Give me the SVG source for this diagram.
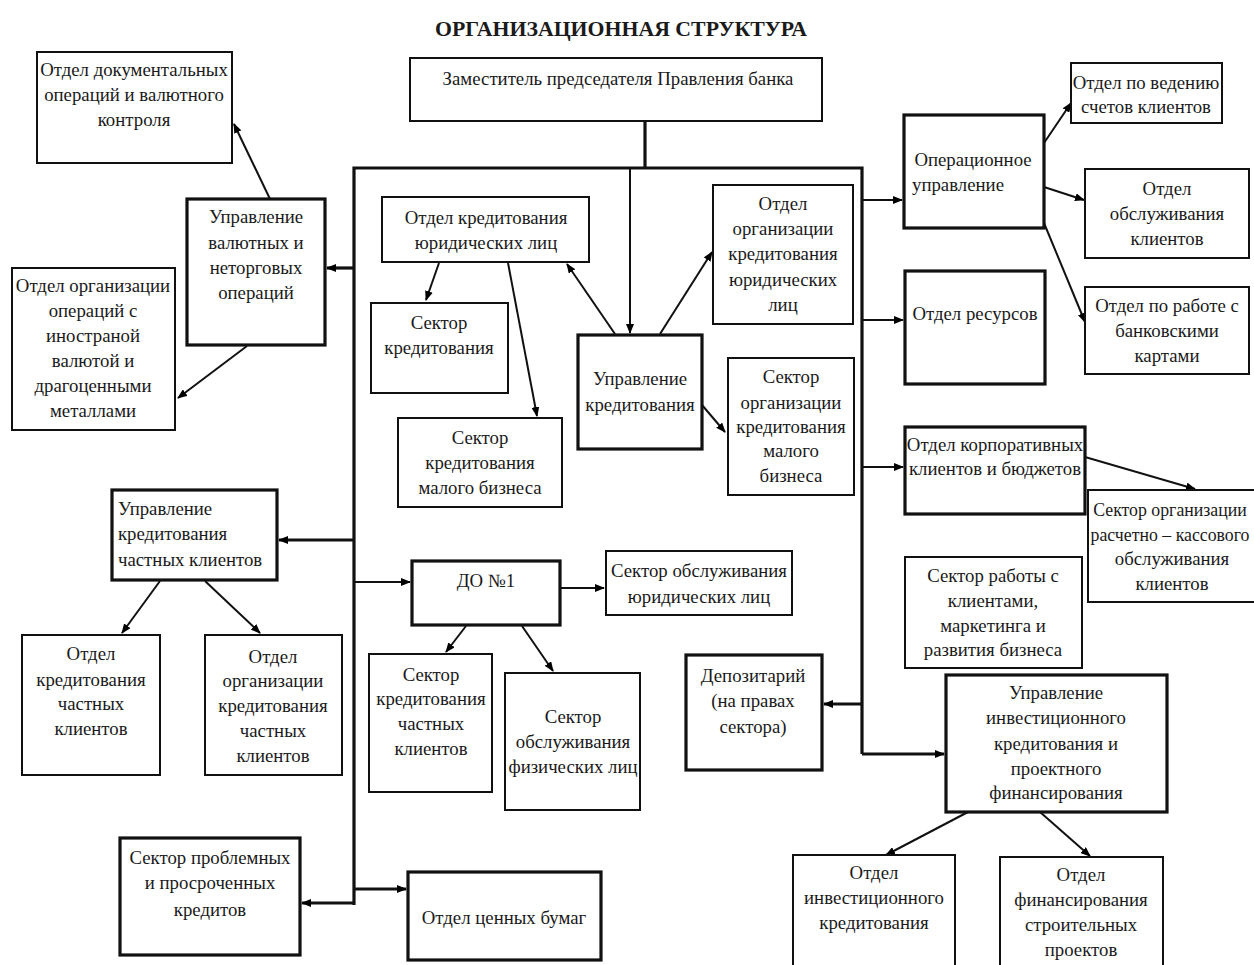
<svg xmlns="http://www.w3.org/2000/svg" width="1254" height="965" viewBox="0 0 1254 965">
<defs>
<marker id="a" markerWidth="10" markerHeight="8" refX="9" refY="4" orient="auto" markerUnits="userSpaceOnUse"><path d="M0,0 L10,4 L0,8 z" fill="#000"/></marker>
<style>
.b{fill:#fff;stroke:#111;stroke-width:2}
.t{fill:#fff;stroke:#111;stroke-width:3.2}
text{font-family:"Liberation Serif","Times New Roman",serif;font-size:18.8px;fill:#1a1a1a;text-anchor:middle}
.l{text-anchor:start}
.s{font-size:17.8px}
.h{font-size:21.8px;font-weight:bold}
.c line,.c polyline{stroke:#111;stroke-width:2;fill:none}
.c .k{stroke-width:3.2}
</style>
</defs>
<rect width="1254" height="965" fill="#fff"/>
<text class="h" x="621" y="36">ОРГАНИЗАЦИОННАЯ СТРУКТУРА</text>

<g class="c" id="connectors">
<line x1="645" y1="121" x2="645" y2="168" class="k"/>
<polyline class="k" points="354,905 354,168 862,168 862,754"/>
<line x1="630" y1="168" x2="630" y2="333" marker-end="url(#a)"/>
<line class="k" x1="354" y1="268" x2="327" y2="268" marker-end="url(#a)"/>
<line class="k" x1="354" y1="540" x2="279" y2="540" marker-end="url(#a)"/>
<line x1="354" y1="582" x2="410" y2="582" marker-end="url(#a)"/>
<line class="k" x1="354" y1="903" x2="302" y2="903" marker-end="url(#a)"/>
<line class="k" x1="354" y1="889" x2="406" y2="889" marker-end="url(#a)"/>
<line x1="862" y1="200" x2="902" y2="200" marker-end="url(#a)"/>
<line x1="862" y1="320" x2="903" y2="320" marker-end="url(#a)"/>
<line x1="862" y1="467" x2="903" y2="467" marker-end="url(#a)"/>
<line class="k" x1="862" y1="704" x2="824" y2="704" marker-end="url(#a)"/>
<line class="k" x1="862" y1="754" x2="944" y2="754" marker-end="url(#a)"/>
<line x1="560" y1="588" x2="604" y2="588" marker-end="url(#a)"/>
<line x1="466" y1="626" x2="446" y2="652" marker-end="url(#a)"/>
<line x1="522" y1="626" x2="553" y2="671" marker-end="url(#a)"/>
<line x1="160" y1="581" x2="122" y2="633" marker-end="url(#a)"/>
<line x1="205" y1="581" x2="260" y2="633" marker-end="url(#a)"/>
<line x1="270" y1="199" x2="234" y2="124" marker-end="url(#a)"/>
<line x1="247" y1="346" x2="178" y2="398" marker-end="url(#a)"/>
<line x1="439" y1="263" x2="426" y2="300" marker-end="url(#a)"/>
<line x1="508" y1="263" x2="537" y2="416" marker-end="url(#a)"/>
<line x1="615" y1="334" x2="567" y2="264" marker-end="url(#a)"/>
<line x1="660" y1="334" x2="712" y2="252" marker-end="url(#a)"/>
<line x1="702" y1="405" x2="725" y2="432" marker-end="url(#a)"/>
<line x1="1044" y1="143" x2="1071" y2="103" marker-end="url(#a)"/>
<line x1="1044" y1="187" x2="1084" y2="200" marker-end="url(#a)"/>
<line x1="1044" y1="223" x2="1085" y2="322" marker-end="url(#a)"/>
<line x1="1085" y1="457" x2="1195" y2="489" marker-end="url(#a)"/>
<line x1="968" y1="812" x2="886" y2="855" marker-end="url(#a)"/>
<line x1="1040" y1="812" x2="1090" y2="856" marker-end="url(#a)"/>
</g>

<g id="n-zam"><rect class="b" x="410" y="58" width="412" height="63"/><text x="618" y="85">Заместитель председателя Правления банка</text></g>

<g id="n-doc"><rect class="b" x="37" y="52" width="195" height="111"/><text x="134" y="76">Отдел документальных</text><text x="134" y="101">операций и валютного</text><text x="134" y="126">контроля</text></g>

<g id="n-val"><rect class="t" x="187" y="199" width="138" height="146"/><text x="256" y="223">Управление</text><text x="256" y="249">валютных и</text><text x="256" y="274">неторговых</text><text x="256" y="299">операций</text></g>

<g id="n-inv"><rect class="b" x="12" y="268" width="163" height="162"/><text x="93" y="292">Отдел организации</text><text x="93" y="317">операций с</text><text x="93" y="342">иностраной</text><text x="93" y="367">валютой и</text><text x="93" y="392">драгоценными</text><text x="93" y="417">металлами</text></g>

<g id="n-okul"><rect class="b" x="382" y="197" width="207" height="65"/><text x="486" y="224">Отдел кредитования</text><text x="486" y="249">юридических лиц</text></g>

<g id="n-sk"><rect class="b" x="371" y="303" width="137" height="90"/><text x="439" y="329">Сектор</text><text x="439" y="354">кредитования</text></g>

<g id="n-skmb"><rect class="b" x="398" y="418" width="164" height="89"/><text x="480" y="444">Сектор</text><text x="480" y="469">кредитования</text><text x="480" y="494">малого бизнеса</text></g>

<g id="n-uk"><rect class="t" x="578" y="335" width="124" height="114"/><text x="640" y="385">Управление</text><text x="640" y="411">кредитования</text></g>

<g id="n-ookul"><rect class="b" x="713" y="185" width="140" height="139"/><text x="783" y="210">Отдел</text><text x="783" y="235">организации</text><text x="783" y="260">кредитования</text><text x="783" y="286">юридических</text><text x="783" y="311">лиц</text></g>

<g id="n-sokmb"><rect class="b" x="728" y="358" width="126" height="137"/><text x="791" y="383">Сектор</text><text x="791" y="409">организации</text><text x="791" y="433">кредитования</text><text x="791" y="457">малого</text><text x="791" y="482">бизнеса</text></g>

<g id="n-ukchk"><rect class="t" x="112" y="490" width="165" height="90"/><text class="l" x="118" y="515">Управление</text><text class="l" x="118" y="540">кредитования</text><text class="l" x="118" y="566">частных клиентов</text></g>

<g id="n-do1"><rect class="t" x="412" y="561" width="148" height="64"/><text x="486" y="587">ДО №1</text></g>

<g id="n-soul"><rect class="b" x="606" y="551" width="186" height="64"/><text x="699" y="577">Сектор обслуживания</text><text x="699" y="603">юридических лиц</text></g>

<g id="n-okchk"><rect class="b" x="22" y="635" width="138" height="140"/><text x="91" y="660">Отдел</text><text x="91" y="686">кредитования</text><text x="91" y="710">частных</text><text x="91" y="735">клиентов</text></g>

<g id="n-ookchk"><rect class="b" x="205" y="635" width="137" height="140"/><text x="273" y="663">Отдел</text><text x="273" y="687">организации</text><text x="273" y="712">кредитования</text><text x="273" y="737">частных</text><text x="273" y="762">клиентов</text></g>

<g id="n-skchk"><rect class="b" x="369" y="654" width="123" height="138"/><text x="431" y="681">Сектор</text><text x="431" y="705">кредитования</text><text x="431" y="730">частных</text><text x="431" y="755">клиентов</text></g>

<g id="n-sofl"><rect class="b" x="505" y="673" width="135" height="137"/><text x="573" y="723">Сектор</text><text x="573" y="748">обслуживания</text><text x="573" y="773">физических лиц</text></g>

<g id="n-dep"><rect class="t" x="686" y="655" width="136" height="115"/><text x="753" y="682">Депозитарий</text><text x="753" y="707">(на правах</text><text x="753" y="733">сектора)</text></g>

<g id="n-spk"><rect class="t" x="120" y="838" width="180" height="117"/><text x="210" y="864">Сектор проблемных</text><text x="210" y="889">и просроченных</text><text x="210" y="916">кредитов</text></g>

<g id="n-ocb"><rect class="t" x="408" y="872" width="193" height="88"/><text x="504" y="924">Отдел ценных бумаг</text></g>

<g id="n-ou"><rect class="t" x="904" y="115" width="140" height="113"/><text x="973" y="166">Операционное</text><text x="958" y="191">управление</text></g>

<g id="n-ovsk"><rect class="b" x="1071" y="63" width="151" height="60"/><text x="1146" y="89">Отдел по ведению</text><text x="1146" y="113">счетов клиентов</text></g>

<g id="n-ook"><rect class="b" x="1085" y="169" width="164" height="89"/><text x="1167" y="195">Отдел</text><text x="1167" y="220">обслуживания</text><text x="1167" y="245">клиентов</text></g>

<g id="n-obk"><rect class="b" x="1085" y="287" width="164" height="87"/><text x="1167" y="312">Отдел по работе с</text><text x="1167" y="337">банковскими</text><text x="1167" y="362">картами</text></g>

<g id="n-or"><rect class="t" x="905" y="271" width="140" height="113"/><text x="975" y="320">Отдел ресурсов</text></g>

<g id="n-okkb"><rect class="t" x="905" y="427" width="180" height="87"/><text x="995" y="451">Отдел корпоративных</text><text x="995" y="475">клиентов и бюджетов</text></g>

<g id="n-srko"><rect class="b" x="1088" y="490" width="170" height="112"/><text class="s" x="1170" y="516">Сектор организации</text><text class="s" x="1170" y="541">расчетно – кассового</text><text x="1172" y="565">обслуживания</text><text x="1172" y="590">клиентов</text></g>

<g id="n-srk"><rect class="b" x="905" y="557" width="177" height="111"/><text x="993" y="582">Сектор работы с</text><text x="993" y="607">клиентами,</text><text x="993" y="632">маркетинга и</text><text x="993" y="656">развития бизнеса</text></g>

<g id="n-uikpf"><rect class="t" x="946" y="675" width="221" height="137"/><text x="1056" y="699">Управление</text><text x="1056" y="724">инвестиционного</text><text x="1056" y="750">кредитования и</text><text x="1056" y="775">проектного</text><text x="1056" y="799">финансирования</text></g>

<g id="n-oik"><rect class="b" x="793" y="855" width="162" height="115"/><text x="874" y="879">Отдел</text><text x="874" y="904">инвестиционного</text><text x="874" y="929">кредитования</text></g>

<g id="n-ofsp"><rect class="b" x="1000" y="857" width="163" height="113"/><text x="1081" y="881">Отдел</text><text x="1081" y="906">финансирования</text><text x="1081" y="931">строительных</text><text x="1081" y="956">проектов</text></g>
</svg>
